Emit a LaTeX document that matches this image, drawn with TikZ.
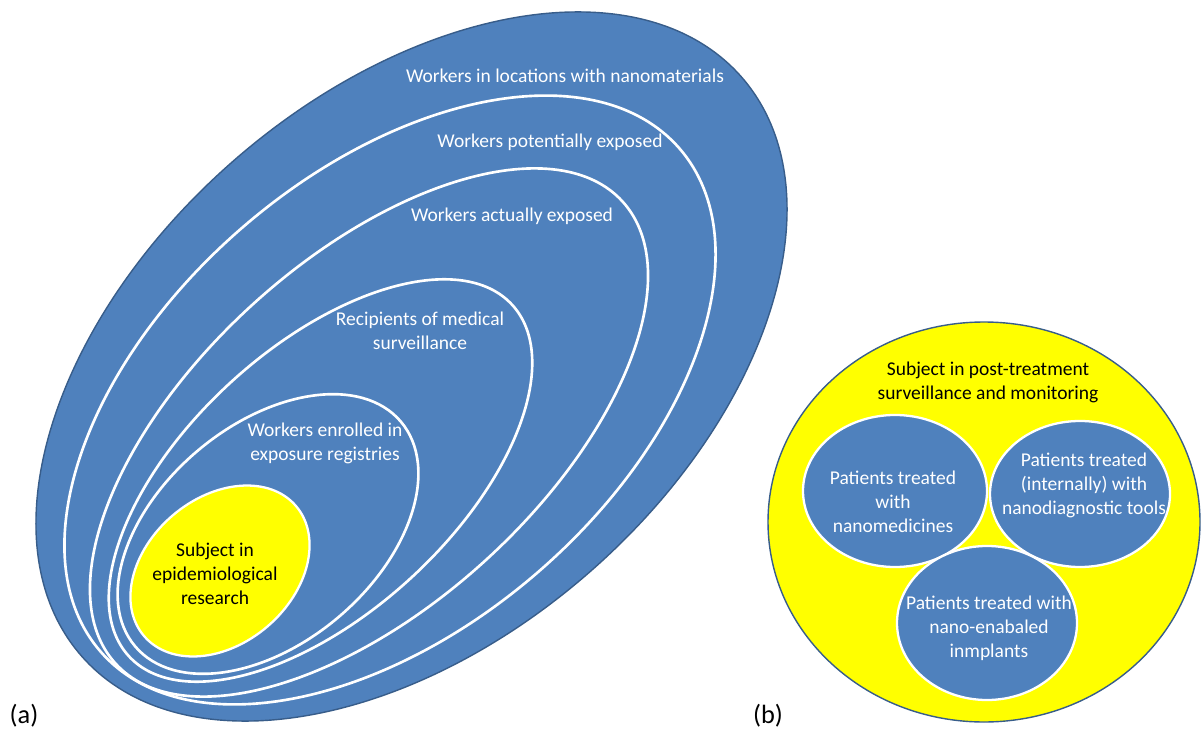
\documentclass[tikz,border=0pt]{standalone}
\usepackage{fontspec}
\setmainfont{Carlito}
\definecolor{offblue}{RGB}{79,129,189}
\definecolor{edgeblue}{RGB}{56,93,138}
\definecolor{brightyellow}{RGB}{255,255,0}
\tikzset{
  bluefill/.style={fill=offblue, draw=edgeblue, line width=0.8pt},
  ring/.style={draw=white, line width=1.5pt},
  whitetxt/.style={text=white, align=center, font=\fontsize{11.1}{13.7}\selectfont, inner sep=0pt},
  blacktxt/.style={text=black, align=center, font=\fontsize{11.1}{13.7}\selectfont, inner sep=0pt},
  panellabel/.style={text=black, font=\fontsize{15}{18}\selectfont, inner sep=0pt}
}
\begin{document}
\begin{tikzpicture}[x=0.02cm, y=-0.02cm]
\useasboundingbox (0,0) rectangle (1203,733);
% ---------- panel (a) ----------
\path[bluefill, rotate around={41.3:(411.5,366.5)}] (411.5,366.5) ellipse [x radius=439, y radius=272];
% workers potentially exposed
\path[ring, rotate around={41.0:(390,400)}] (390,400) ellipse [x radius=383.5, y radius=227];
% workers actually exposed
\path[ring, rotate around={42.35:(369,432.5)}] (369,432.5) ellipse [x radius=343, y radius=173];
% recipients of medical surveillance
\path[ring, rotate around={42.5:(320.5,480.5)}] (320.5,480.5) ellipse [x radius=260, y radius=133];
% workers enrolled in exposure registries
\path[ring, rotate around={40.2:(268,534)}] (268,534) ellipse [x radius=174, y radius=109];
% subject in epidemiological research
\path[fill=brightyellow, draw=white, line width=1.3pt, rotate around={40.6:(220,571)}] (220,571) ellipse [x radius=100, y radius=73];

\node[whitetxt] (t1) at (565,76) {Workers in locations with nanomaterials};
\node[whitetxt] (t2) at (550,142) {Workers potentially exposed};
\node[whitetxt] (t3) at (512,216) {Workers actually exposed};
\node[whitetxt] (t4) at (420,331) {Recipients of medical\\surveillance};
\node[whitetxt] (t5) at (325,443) {Workers enrolled in\\exposure registries};
\node[blacktxt] (t6) at (215,574) {Subject in\\epidemiological\\research};
\node[panellabel] (la) at (24,716) {(a)};

% ---------- panel (b) ----------
\path[fill=brightyellow, draw=edgeblue, line width=0.8pt] (984,522) ellipse [x radius=216, y radius=200];
\path[fill=offblue, draw=white, line width=1.3pt] (895,491) ellipse [x radius=92, y radius=76];
\path[fill=offblue, draw=white, line width=1.3pt] (1080,494) ellipse [x radius=90, y radius=73];
\path[fill=offblue, draw=white, line width=1.3pt] (987,623) ellipse [x radius=90, y radius=77];

\node[blacktxt] (u0) at (988,382) {Subject in post-treatment\\surveillance and monitoring};
\node[whitetxt] (u1) at (893,502) {Patients treated\\with\\nanomedicines};
\node[whitetxt] (u2) at (1084,485) {Patients treated\\(internally) with\\nanodiagnostic tools};
\node[whitetxt] (u3) at (989,628) {Patients treated with\\nano-enabaled\\inmplants};
\node[panellabel] (lb) at (768,716) {(b)};
\end{tikzpicture}
\end{document}
